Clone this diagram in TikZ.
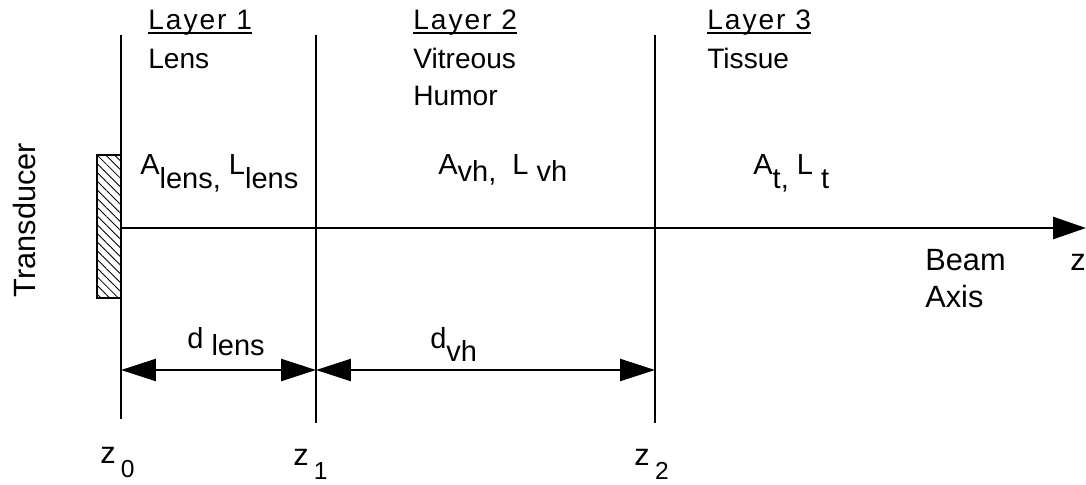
\documentclass[tikz,border=0pt]{standalone}
\usepackage{fontspec}
\setmainfont{Liberation Sans}
\usetikzlibrary{arrows.meta, patterns.meta}
\newcommand{\lsub}[2][4.5pt]{\raisebox{-#1}{#2}}
\newcommand{\zsub}[1]{\kern3pt\raisebox{-8.5pt}{\fontsize{14}{17}\selectfont #1}}
\tikzset{
  every picture/.style={line cap=butt},
  boundary/.style={line width=1.6pt},
  uline/.style={line width=1pt},
  lbl/.style={anchor=base west, inner sep=0pt, font=\fontsize{16}{19}\selectfont},
  layertxt/.style={lbl, font=\fontsize{16}{19}\selectfont\addfontfeature{LetterSpace=7}},
  sym/.style={anchor=base west, inner sep=0pt, font=\fontsize{16.5}{19}\selectfont},
  big/.style={anchor=base west, inner sep=0pt, font=\fontsize{17.5}{21}\selectfont},
  dimarrow/.style={{Triangle[length=0.7cm,width=0.44cm]}-{Triangle[length=0.7cm,width=0.44cm]}, line width=1.4pt},
  axisarrow/.style={-{Triangle[length=0.66cm,width=0.44cm]}, line width=1.6pt},
  xdcr/.style={draw, line width=1.2pt, pattern={Lines[angle=-45,distance=3.5pt,line width=0.5pt]}},
}

\begin{document}
\begin{tikzpicture}[x=0.02cm, y=-0.02cm]
  \useasboundingbox (0,0) rectangle (1086,484);
  \coordinate (b0t) at (121,35);  \coordinate (b0b) at (121,419);
  \coordinate (b1t) at (316,35);  \coordinate (b1b) at (316,423);
  \coordinate (b2t) at (655,35);  \coordinate (b2b) at (655,423);
  \coordinate (ax0) at (121,228); \coordinate (ax1) at (1086,228);
  \coordinate (d0) at (121,370);  \coordinate (d1) at (316,370); \coordinate (d2) at (655,370);
  \coordinate (xt) at (97,155);   \coordinate (xb) at (121,298);
  \draw[xdcr] (xt) rectangle (xb);
  \draw[boundary] (b0t) -- (b0b); \draw[boundary] (b1t) -- (b1b); \draw[boundary] (b2t) -- (b2b);
  \draw[axisarrow] (ax0) -- (ax1);
  \draw[dimarrow] (d0) -- (d1); \draw[dimarrow] (d1) -- (d2);
  \node[layertxt] (lay1) at (148,29) {Layer 1};
  \node[layertxt] (lay2) at (413,29) {Layer 2};
  \node[layertxt] (lay3) at (707,29) {Layer 3};
  \foreach \l in {lay1,lay2,lay3}
    \draw[uline] ([yshift=-2.4pt]\l.base west) -- ([yshift=-2.4pt]\l.base east);
  \node[lbl] (lens) at (148,68) {Lens};
  \node[lbl] (vit) at (413,68) {Vitreous};
  \node[lbl] (hum) at (413,105) {Humor};
  \node[lbl] (tis) at (707,68) {Tissue};
  \node[sym] (alens) at (140,174) {A\lsub[8pt]{lens,} L\lsub[8pt]{lens}};
  \node[sym] (avh) at (438,174) {A\lsub{vh,}\ \ L\ \lsub{vh}};
  \node[sym] (at) at (753,174) {A\lsub[8pt]{t,} L\ \lsub[8pt]{t}};
  \node[sym] (dlens) at (187,348) {d\ \lsub{lens}};
  \node[sym] (dvh) at (430,348) {d\lsub[7.5pt]{vh}};
  \node[big, anchor=base, rotate=90] (trans) at (35,220) {Transducer};
  \node[big] (beam) at (925,270) {Beam};
  \node[big] (axis) at (925,307) {Axis};
  \node[big] (zax) at (1070,270) {z};
  \node[big] (z0) at (100,463) {z\zsub{0}};
  \node[big] (z1) at (293,465) {z\zsub{1}};
  \node[big] (z2) at (634,465) {z\zsub{2}};
\end{tikzpicture}
\end{document}
